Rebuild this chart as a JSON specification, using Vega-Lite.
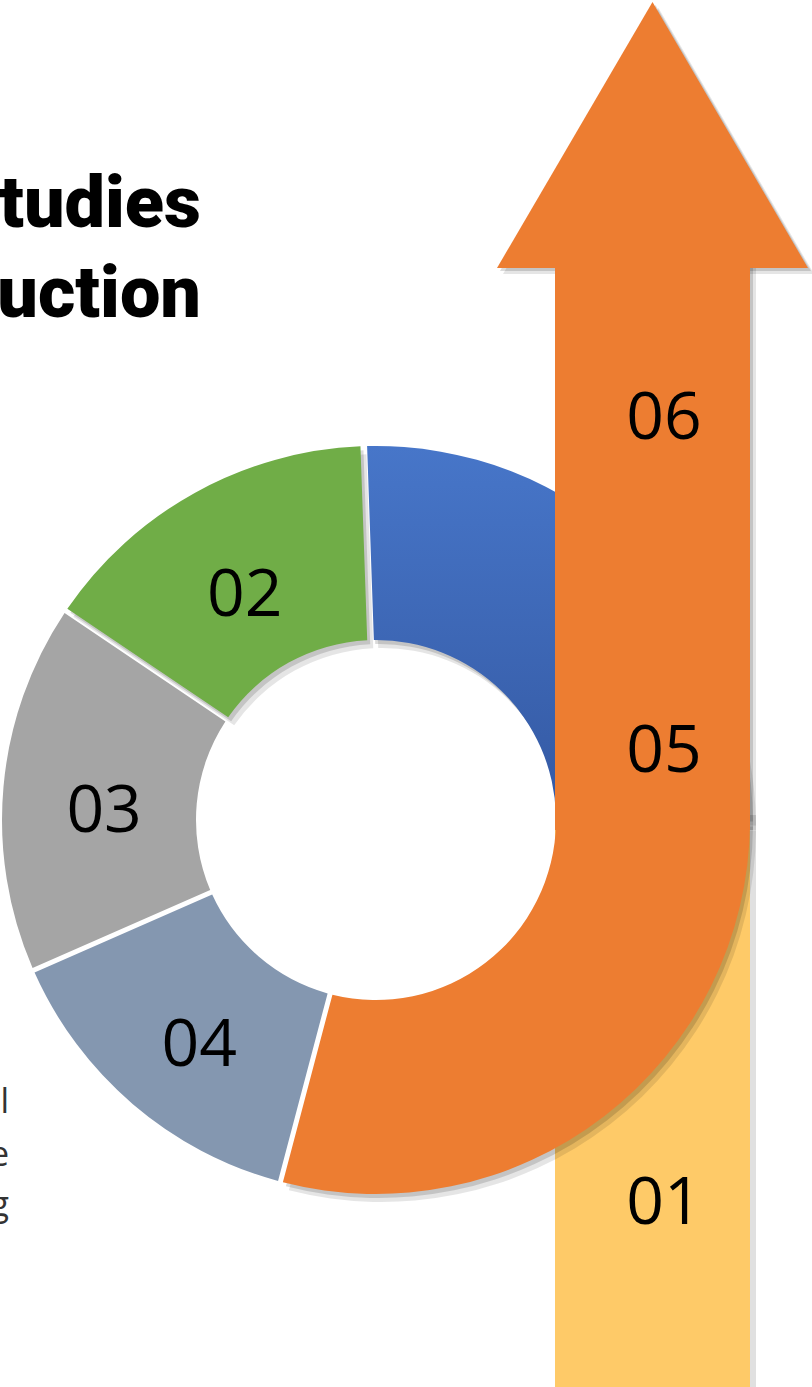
{
  "$schema": "https://vega.github.io/schema/vega-lite/v6.json",
  "width": 812,
  "height": 1387,
  "autosize": {"type": "none"},
  "padding": 0,
  "background": "white",
  "config": {"view": {"stroke": null}},
  "datasets": {
    "bars": [
      {"stage": "01", "left": 555, "right": 750, "top": 815, "bottom": 1387},
      {"stage": "06", "left": 555, "right": 750, "top": 262, "bottom": 830}
    ],
    "head": [
      {"px": 497, "py": 268, "base": 268},
      {"px": 652.5, "py": 2, "base": 268},
      {"px": 808, "py": 268, "base": 268}
    ],
    "donut": [
      {"segment": "05", "deg": 104.8, "rank": 1},
      {"segment": "04", "deg": 51.5, "rank": 2},
      {"segment": "03", "deg": 57.7, "rank": 3},
      {"segment": "02", "deg": 54.0, "rank": 4},
      {"segment": "06", "deg": 92.0, "rank": 5}
    ],
    "barlabels": [
      {"text": "06", "at": 439},
      {"text": "05", "at": 772},
      {"text": "01", "at": 1224}
    ],
    "title": [
      {"text": "tudies", "at": 227},
      {"text": "uction", "at": 317}
    ],
    "para": [
      {"text": "l", "at": 1113},
      {"text": "e", "at": 1166},
      {"text": "g", "at": 1216}
    ]
  },
  "layer": [
    {
      "data": {"name": "bars"},
      "transform": [{"filter": "datum.stage === '01'"}],
      "mark": {"type": "rect", "color": "#000000", "opacity": 0.12, "xOffset": 6, "x2Offset": 6, "yOffset": 0, "y2Offset": 0},
      "encoding": {
        "x": {"field": "left", "type": "quantitative", "scale": {"domain": [0, 812], "nice": false, "zero": false}, "axis": null},
        "x2": {"field": "right"},
        "y": {"field": "top", "type": "quantitative", "scale": {"domain": [0, 1387], "reverse": true, "nice": false, "zero": false}, "axis": null},
        "y2": {"field": "bottom"}
      }
    },
    {
      "data": {"name": "bars"},
      "transform": [{"filter": "datum.stage === '01'"}],
      "mark": {"type": "rect", "color": "#FECA68"},
      "encoding": {
        "x": {"field": "left", "type": "quantitative", "scale": {"domain": [0, 812], "nice": false, "zero": false}, "axis": null},
        "x2": {"field": "right"},
        "y": {"field": "top", "type": "quantitative", "scale": {"domain": [0, 1387], "reverse": true, "nice": false, "zero": false}, "axis": null},
        "y2": {"field": "bottom"}
      }
    },
    {
      "data": {"name": "donut"},
      "transform": [
        {"stack": "deg", "groupby": [], "sort": [{"field": "rank", "order": "ascending"}], "as": ["start", "end"]},
        {"filter": "indexof(['02','05','06'], datum.segment) >= 0"}
      ],
      "mark": {"type": "arc", "innerRadius": 180, "outerRadius": 374, "padAngle": 0.012, "color": "#000000", "opacity": 0.1, "xOffset": 6, "yOffset": 8},
      "encoding": {
        "x": {"datum": 376, "type": "quantitative", "scale": {"domain": [0, 812], "nice": false, "zero": false}, "axis": null},
        "y": {"datum": 820, "type": "quantitative", "scale": {"domain": [0, 1387], "reverse": true, "nice": false, "zero": false}, "axis": null},
        "theta": {"field": "start", "type": "quantitative", "scale": {"domain": [0, 360], "range": [1.5707963, 7.8539816]}},
        "theta2": {"field": "end"}
      }
    },
    {
      "data": {"name": "donut"},
      "transform": [
        {"stack": "deg", "groupby": [], "sort": [{"field": "rank", "order": "ascending"}], "as": ["start", "end"]},
        {"filter": "indexof(['02','05','06'], datum.segment) >= 0"}
      ],
      "mark": {"type": "arc", "innerRadius": 180, "outerRadius": 374, "padAngle": 0.012, "color": "#000000", "opacity": 0.14, "xOffset": 3, "yOffset": 4},
      "encoding": {
        "x": {"datum": 376, "type": "quantitative", "scale": {"domain": [0, 812], "nice": false, "zero": false}, "axis": null},
        "y": {"datum": 820, "type": "quantitative", "scale": {"domain": [0, 1387], "reverse": true, "nice": false, "zero": false}, "axis": null},
        "theta": {"field": "start", "type": "quantitative", "scale": {"domain": [0, 360], "range": [1.5707963, 7.8539816]}},
        "theta2": {"field": "end"}
      }
    },
    {
      "data": {"name": "donut"},
      "transform": [
        {"stack": "deg", "groupby": [], "sort": [{"field": "rank", "order": "ascending"}], "as": ["start", "end"]},
        {"filter": "datum.segment === '06'"}
      ],
      "mark": {
        "type": "arc", "innerRadius": 180, "outerRadius": 374, "padAngle": 0.02,
        "color": {"gradient": "linear", "x1": 0, "y1": 0, "x2": 0, "y2": 1, "stops": [{"offset": 0, "color": "#4776C9"}, {"offset": 1, "color": "#3459A3"}]}
      },
      "encoding": {
        "x": {"datum": 376, "type": "quantitative", "scale": {"domain": [0, 812], "nice": false, "zero": false}, "axis": null},
        "y": {"datum": 820, "type": "quantitative", "scale": {"domain": [0, 1387], "reverse": true, "nice": false, "zero": false}, "axis": null},
        "theta": {"field": "start", "type": "quantitative", "scale": {"domain": [0, 360], "range": [1.5707963, 7.8539816]}},
        "theta2": {"field": "end"}
      }
    },
    {
      "data": {"name": "donut"},
      "transform": [
        {"stack": "deg", "groupby": [], "sort": [{"field": "rank", "order": "ascending"}], "as": ["start", "end"]},
        {"filter": "datum.segment !== '06'"}
      ],
      "mark": {"type": "arc", "innerRadius": 180, "outerRadius": 374, "padAngle": 0.012},
      "encoding": {
        "x": {"datum": 376, "type": "quantitative", "scale": {"domain": [0, 812], "nice": false, "zero": false}, "axis": null},
        "y": {"datum": 820, "type": "quantitative", "scale": {"domain": [0, 1387], "reverse": true, "nice": false, "zero": false}, "axis": null},
        "theta": {"field": "start", "type": "quantitative", "scale": {"domain": [0, 360], "range": [1.5707963, 7.8539816]}},
        "theta2": {"field": "end"},
        "color": {"field": "segment", "type": "nominal", "scale": {"domain": ["02", "03", "04", "05"], "range": ["#70AD47", "#A5A5A5", "#8497B0", "#ED7D31"]}, "legend": null}
      }
    },
    {
      "data": {"name": "bars"},
      "transform": [{"filter": "datum.stage === '06'"}],
      "mark": {"type": "rect", "color": "#000000", "opacity": 0.1, "xOffset": 6, "x2Offset": 6, "yOffset": 4, "y2Offset": 0},
      "encoding": {
        "x": {"field": "left", "type": "quantitative", "scale": {"domain": [0, 812], "nice": false, "zero": false}, "axis": null},
        "x2": {"field": "right"},
        "y": {"field": "top", "type": "quantitative", "scale": {"domain": [0, 1387], "reverse": true, "nice": false, "zero": false}, "axis": null},
        "y2": {"field": "bottom"}
      }
    },
    {
      "data": {"name": "bars"},
      "transform": [{"filter": "datum.stage === '06'"}],
      "mark": {"type": "rect", "color": "#000000", "opacity": 0.14, "xOffset": 3, "x2Offset": 3, "yOffset": 2, "y2Offset": 0},
      "encoding": {
        "x": {"field": "left", "type": "quantitative", "scale": {"domain": [0, 812], "nice": false, "zero": false}, "axis": null},
        "x2": {"field": "right"},
        "y": {"field": "top", "type": "quantitative", "scale": {"domain": [0, 1387], "reverse": true, "nice": false, "zero": false}, "axis": null},
        "y2": {"field": "bottom"}
      }
    },
    {
      "data": {"name": "head"},
      "mark": {"type": "area", "color": "#000000", "opacity": 0.1, "xOffset": 6, "yOffset": 6, "y2Offset": 6},
      "encoding": {
        "x": {"field": "px", "type": "quantitative", "scale": {"domain": [0, 812], "nice": false, "zero": false}, "axis": null},
        "y": {"field": "py", "type": "quantitative", "scale": {"domain": [0, 1387], "reverse": true, "nice": false, "zero": false}, "axis": null},
        "y2": {"field": "base"}
      }
    },
    {
      "data": {"name": "head"},
      "mark": {"type": "area", "color": "#000000", "opacity": 0.14, "xOffset": 3, "yOffset": 3, "y2Offset": 3},
      "encoding": {
        "x": {"field": "px", "type": "quantitative", "scale": {"domain": [0, 812], "nice": false, "zero": false}, "axis": null},
        "y": {"field": "py", "type": "quantitative", "scale": {"domain": [0, 1387], "reverse": true, "nice": false, "zero": false}, "axis": null},
        "y2": {"field": "base"}
      }
    },
    {
      "data": {"name": "bars"},
      "transform": [{"filter": "datum.stage === '06'"}],
      "mark": {"type": "rect", "color": "#ED7D31"},
      "encoding": {
        "x": {"field": "left", "type": "quantitative", "scale": {"domain": [0, 812], "nice": false, "zero": false}, "axis": null},
        "x2": {"field": "right"},
        "y": {"field": "top", "type": "quantitative", "scale": {"domain": [0, 1387], "reverse": true, "nice": false, "zero": false}, "axis": null},
        "y2": {"field": "bottom"}
      }
    },
    {
      "data": {"name": "head"},
      "mark": {"type": "area", "color": "#ED7D31"},
      "encoding": {
        "x": {"field": "px", "type": "quantitative", "scale": {"domain": [0, 812], "nice": false, "zero": false}, "axis": null},
        "y": {"field": "py", "type": "quantitative", "scale": {"domain": [0, 1387], "reverse": true, "nice": false, "zero": false}, "axis": null},
        "y2": {"field": "base"}
      }
    },
    {
      "data": {"name": "donut"},
      "mark": {"type": "text", "radius": 275, "font": "Open Sans", "fontSize": 66, "color": "#000000", "baseline": "middle", "align": "center", "dy": 17},
      "encoding": {
        "x": {"datum": 378, "type": "quantitative", "scale": {"domain": [0, 812], "nice": false, "zero": false}, "axis": null},
        "y": {"datum": 820, "type": "quantitative", "scale": {"domain": [0, 1387], "reverse": true, "nice": false, "zero": false}, "axis": null},
        "theta": {"field": "deg", "type": "quantitative", "stack": true, "scale": {"domain": [0, 360], "range": [1.5707963, 7.8539816]}},
        "order": {"field": "rank", "type": "quantitative"},
        "text": {"field": "segment", "type": "nominal"},
        "opacity": {"condition": {"test": "indexof(['02','03','04'], datum.segment) >= 0", "value": 1}, "value": 0}
      }
    },
    {
      "data": {"name": "barlabels"},
      "mark": {"type": "text", "font": "Open Sans", "fontSize": 66, "color": "#000000", "baseline": "alphabetic", "align": "center"},
      "encoding": {
        "x": {"datum": 664, "type": "quantitative", "scale": {"domain": [0, 812], "nice": false, "zero": false}, "axis": null},
        "y": {"field": "at", "type": "quantitative", "scale": {"domain": [0, 1387], "reverse": true, "nice": false, "zero": false}, "axis": null},
        "text": {"field": "text", "type": "nominal"}
      }
    },
    {
      "data": {"name": "title"},
      "mark": {"type": "text", "font": "Roboto", "fontWeight": 900, "fontSize": 72, "color": "#000000", "baseline": "alphabetic", "align": "right"},
      "encoding": {
        "x": {"datum": 201, "type": "quantitative", "scale": {"domain": [0, 812], "nice": false, "zero": false}, "axis": null},
        "y": {"field": "at", "type": "quantitative", "scale": {"domain": [0, 1387], "reverse": true, "nice": false, "zero": false}, "axis": null},
        "text": {"field": "text", "type": "nominal"}
      }
    },
    {
      "data": {"name": "para"},
      "mark": {"type": "text", "font": "Open Sans", "fontWeight": 400, "fontSize": 34, "color": "#333333", "baseline": "alphabetic", "align": "right"},
      "encoding": {
        "x": {"datum": 9, "type": "quantitative", "scale": {"domain": [0, 812], "nice": false, "zero": false}, "axis": null},
        "y": {"field": "at", "type": "quantitative", "scale": {"domain": [0, 1387], "reverse": true, "nice": false, "zero": false}, "axis": null},
        "text": {"field": "text", "type": "nominal"}
      }
    }
  ]
}
